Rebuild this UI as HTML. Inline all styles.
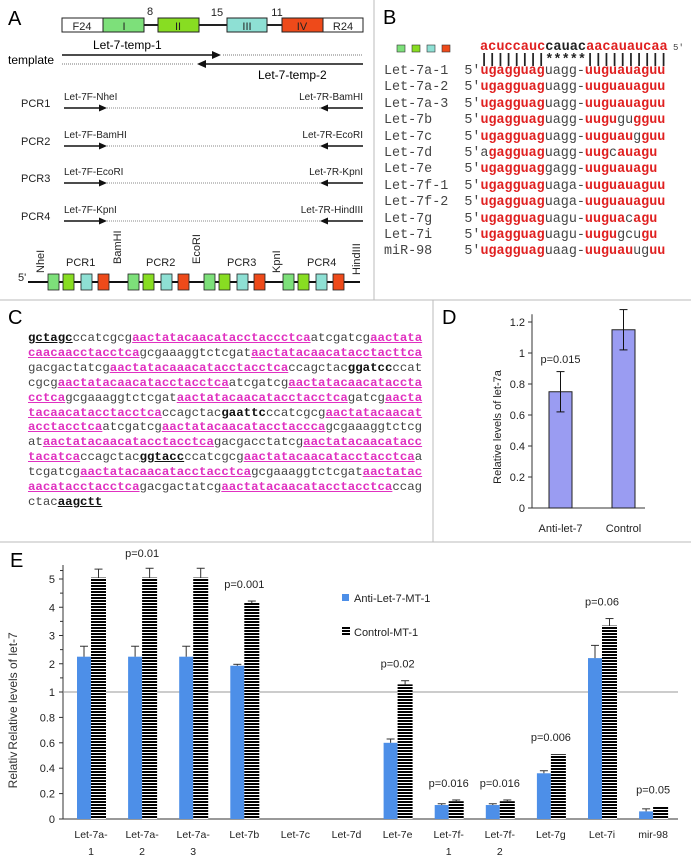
<!DOCTYPE html>
<html><head><meta charset="utf-8">
<style>
body{margin:0;background:#fff;}
#wrap{position:relative;width:691px;height:866px;overflow:hidden;background:#fff;font-family:"Liberation Sans",sans-serif;}
svg{position:absolute;left:0;top:0;}
.mono{font-family:"Liberation Mono",monospace;white-space:pre;position:absolute;}
.r{color:#e02020;font-weight:bold;}
.k{color:#222;font-weight:bold;}
.p{color:#e030c0;font-weight:bold;text-decoration:underline;}
.bu{color:#111;font-weight:bold;text-decoration:underline;}
.bb{color:#111;font-weight:bold;}
</style></head>
<body>
<div id="wrap">
<svg width="691" height="866" id="svg" font-family="Liberation Sans, sans-serif">
<defs>
<pattern id="stripes" width="4" height="3" patternUnits="userSpaceOnUse"><rect width="4" height="3" fill="#fff"/><rect width="4" height="2" fill="#000"/></pattern>
</defs>
<g stroke="#bbb" stroke-width="1">
<line x1="374" y1="0" x2="374" y2="300"/>
<line x1="0" y1="300" x2="691" y2="300"/>
<line x1="433" y1="300" x2="433" y2="542"/>
<line x1="0" y1="542" x2="691" y2="542"/>
</g>
<g>
<text x="8" y="25" font-size="20">A</text>
<g stroke="#222" stroke-width="1">
<line x1="144" y1="25" x2="158" y2="25" stroke-width="2"/>
<line x1="199" y1="25" x2="227" y2="25" stroke-width="2"/>
<line x1="267" y1="25" x2="282" y2="25" stroke-width="2"/>
<rect x="62" y="18" width="41" height="14" fill="#fff"/>
<rect x="103" y="18" width="41" height="14" fill="#7de07a"/>
<rect x="158" y="18" width="41" height="14" fill="#88dd22"/>
<rect x="227" y="18" width="40" height="14" fill="#8ee0d4"/>
<rect x="282" y="18" width="41" height="14" fill="#ee4a1a"/>
<rect x="323" y="18" width="40" height="14" fill="#fff"/>
</g>
<g font-size="11" text-anchor="middle" fill="#222">
<text x="82" y="30">F24</text><text x="124" y="30">I</text><text x="178" y="30">II</text><text x="247" y="30">III</text><text x="302" y="30">IV</text><text x="343" y="30">R24</text>
<text x="150" y="15">8</text><text x="217" y="16">15</text><text x="277" y="16">11</text>
</g>
<text x="93" y="49" font-size="12">Let-7-temp-1</text>
<text x="8" y="64" font-size="12">template</text>
<text x="258" y="79" font-size="12">Let-7-temp-2</text>
<line x1="62" y1="55" x2="214" y2="55" stroke="#111" stroke-width="1.5"/>
<polygon points="212,51 221,55 212,59" fill="#111"/>
<line x1="223" y1="55" x2="363" y2="55" stroke="#777" stroke-dasharray="1,1"/>
<line x1="62" y1="64" x2="193" y2="64" stroke="#777" stroke-dasharray="1,1"/>
<polygon points="197,64 206,60 206,68" fill="#111"/>
<line x1="204" y1="64" x2="363" y2="64" stroke="#111" stroke-width="1.5"/>
<g id="pcr" font-size="10" fill="#222"></g>
<line x1="28" y1="282" x2="360" y2="282" stroke="#111" stroke-width="2"/>
<g id="construct"></g>
<g font-size="11" fill="#222">
<text x="18" y="281">5'</text>
<text x="66" y="266">PCR1</text><text x="146" y="266">PCR2</text><text x="227" y="266">PCR3</text><text x="307" y="266">PCR4</text>
<text transform="translate(44,273) rotate(-90)">NheI</text>
<text transform="translate(121,264) rotate(-90)">BamHI</text>
<text transform="translate(200,264) rotate(-90)">EcoRI</text>
<text transform="translate(280,273) rotate(-90)">KpnI</text>
<text transform="translate(360,275) rotate(-90)">HindIII</text>
</g>
</g>
<g>
<text x="383" y="24" font-size="20">B</text>
<rect x="397" y="45" width="8" height="7" fill="#7de07a" stroke="#333" stroke-width="0.6"/>
<rect x="412" y="45" width="8" height="7" fill="#88dd22" stroke="#333" stroke-width="0.6"/>
<rect x="427" y="45" width="8" height="7" fill="#8ee0d4" stroke="#333" stroke-width="0.6"/>
<rect x="442" y="45" width="8" height="7" fill="#ee4a1a" stroke="#333" stroke-width="0.6"/>
</g>
<text x="8" y="324" font-size="20">C</text>
<text x="442" y="324" font-size="20">D</text>
<text x="10" y="567" font-size="20">E</text>
<g id="chartD"></g>
<g id="chartE"></g>
</svg>

<div class="mono" style="left:480px;top:40px;font-size:13.6px;line-height:16px;"><span class="r">acuccauc</span><span class="k">cauac</span><span class="r">aacauaucaa</span><span style="font-size:9px;color:#444;"> 5'</span></div>
<div class="mono" style="left:480px;top:54px;font-size:13.6px;line-height:14px;color:#222;font-weight:bold;">||||||||*****||||||||||</div>
<div class="mono" style="left:384px;top:64px;font-size:13.4px;line-height:16.4px;color:#444;">Let-7a-1  5'<span class="r">ugagguag</span>uagg-<span class="r">uuguauaguu</span>
Let-7a-2  5'<span class="r">ugagguag</span>uagg-<span class="r">uuguauaguu</span>
Let-7a-3  5'<span class="r">ugagguag</span>uagg-<span class="r">uuguauaguu</span>
Let-7b    5'<span class="r">ugagguag</span>uagg-<span class="r">uugu</span>gu<span class="r">gguu</span>
Let-7c    5'<span class="r">ugagguag</span>uagg-<span class="r">uuguau</span>g<span class="r">guu</span>
Let-7d    5'a<span class="r">gagguag</span>uagg-<span class="r">uug</span>c<span class="r">auagu</span>
Let-7e    5'<span class="r">ugagguag</span>gagg-<span class="r">uuguauagu</span>
Let-7f-1  5'<span class="r">ugagguag</span>uaga-<span class="r">uuguauaguu</span>
Let-7f-2  5'<span class="r">ugagguag</span>uaga-<span class="r">uuguauaguu</span>
Let-7g    5'<span class="r">ugagguag</span>uagu-<span class="r">uugua</span>c<span class="r">agu</span>
Let-7i    5'<span class="r">ugagguag</span>uagu-<span class="r">uugu</span>gcu<span class="r">gu</span>
miR-98    5'<span class="r">ugagguag</span>uaag-<span class="r">uuguau</span>ug<span class="r">uu</span></div>

<div class="mono" style="left:28px;top:331px;font-size:12.4px;line-height:14.9px;color:#444;"><span class="bu">gctagc</span>ccatcgcg<span class="p">aactatacaacatacctaccctca</span>atcgatcg<span class="p">aactata</span>
<span class="p">caacaacctacctca</span>gcgaaaggtctcgat<span class="p">aactatacaacatacctacttca</span>
gacgactatcg<span class="p">aactatacaaacatacctacctca</span>ccagctac<span class="bb">ggatcc</span>ccat
cgcg<span class="p">aactatacaacatacctacctca</span>atcgatcg<span class="p">aactatacaacatacctа</span>
<span class="p">cctca</span>gcgaaaggtctcgat<span class="p">aactatacaacatacctacctca</span>gatcg<span class="p">aacta</span>
<span class="p">tacaacatacctacctca</span>ccagctac<span class="bb">gaattc</span>ccatcgcg<span class="p">aactatacaacat</span>
<span class="p">acctacctca</span>atcgatcg<span class="p">aactatacaacatacctaccca</span>gcgaaaggtctcg
at<span class="p">aactatacaacatacctacctca</span>gacgacctatcg<span class="p">aactatacaacatacc</span>
<span class="p">tacatca</span>ccagctac<span class="bu">ggtacc</span>ccatcgcg<span class="p">aactatacaacatacctacctca</span>a
tcgatcg<span class="p">aactatacaacatacctacctca</span>gcgaaaggtctcgat<span class="p">aactatac</span>
<span class="p">aacatacctacctca</span>gacgactatcg<span class="p">aactatacaacatacctacctca</span>ccag
ctac<span class="bu">aagctt</span></div>
</div>

<script>
// ---- Panel D data ----
const dCategories = ["Anti-let-7", "Control"];
const dValues = [0.75, 1.15];
const dErrors = [0.13, 0.13];
const dTicks = [0, 0.2, 0.4, 0.6, 0.8, 1, 1.2];

// ---- Panel E data ----
const eCategories = ["Let-7a-|1","Let-7a-|2","Let-7a-|3","Let-7b","Let-7c","Let-7d","Let-7e","Let-7f-|1","Let-7f-|2","Let-7g","Let-7i","mir-98"];
const eAnti = [2.25, 2.25, 2.25, 1.93, 0, 0, 0.6, 0.11, 0.11, 0.36, 2.2, 0.06];
const eAntiErr = [0.37, 0.37, 0.37, 0.05, 0, 0, 0.03, 0.01, 0.01, 0.02, 0.45, 0.02];
const eControl = [5.05, 5.05, 5.05, 4.15, 0, 0, 1.27, 0.14, 0.14, 0.51, 3.35, 0.1];
const eControlErr = [0.3, 0.33, 0.33, 0.07, 0, 0, 0.13, 0.01, 0.01, 0, 0.25, 0];
const ePvalues = ["", "p=0.01", "", "p=0.001", "", "", "p=0.02", "p=0.016", "p=0.016", "p=0.006", "p=0.06", "p=0.05"];
const eTicks = [0, 0.2, 0.4, 0.6, 0.8, 1, 2, 3, 4, 5];

const NS = "http://www.w3.org/2000/svg";
function mk(tag, attrs, parent){const e=document.createElementNS(NS,tag);for(const k in attrs)e.setAttribute(k,attrs[k]);parent.appendChild(e);return e;}

(function(){
  const g=document.getElementById('pcr');
  const rows=[["PCR1","Let-7F-NheI","Let-7R-BamHI"],["PCR2","Let-7F-BamHI","Let-7R-EcoRI"],["PCR3","Let-7F-EcoRI","Let-7R-KpnI"],["PCR4","Let-7F-KpnI","Let-7R-HindIII"]];
  const ys=[108,146,183,221];
  rows.forEach((r,i)=>{
    const y=ys[i];
    let t=mk('text',{x:21,y:y-1,'font-size':11},g); t.textContent=r[0];
    
    
    t=mk('text',{x:64,y:y-8},g); t.textContent=r[1];
    t=mk('text',{x:363,y:y-8,'text-anchor':'end'},g); t.textContent=r[2];
    mk('line',{x1:64,y1:y,x2:100,y2:y,stroke:'#111','stroke-width':1.5},g);
    mk('polygon',{points:`99,${y-3.5} 107,${y} 99,${y+3.5}`,fill:'#111'},g);
    mk('line',{x1:107,y1:y,x2:320,y2:y,stroke:'#888','stroke-dasharray':'1,1'},g);
    mk('polygon',{points:`320,${y} 328,${y-3.5} 328,${y+3.5}`,fill:'#111'},g);
    mk('line',{x1:327,y1:y,x2:363,y2:y,stroke:'#111','stroke-width':1.5},g);
  });
  const c=document.getElementById('construct');
  const starts=[48,128,204,283], offs=[0,15,33,50], cols=['#7de07a','#88dd22','#8ee0d4','#ee4a1a'];
  starts.forEach(s=>offs.forEach((o,j)=>{
    const r=mk('rect',{x:s+o,y:274,width:11,height:16,fill:cols[j],stroke:'#222','stroke-width':0.8},c);
    
    
  }));
})();

(function(){
  const g=document.getElementById('chartD');
  const y0=508, ppu=155, xL=532, xR=645;
  const y=v=>y0-v*ppu;
  mk('line',{x1:xL,y1:y(1.25),x2:xL,y2:y0,stroke:'#333'},g);
  mk('line',{x1:xL,y1:y0,x2:xR,y2:y0,stroke:'#333'},g);
  dTicks.forEach(t=>{
    mk('line',{x1:xL-4,y1:y(t),x2:xL,y2:y(t),stroke:'#333'},g);
    const tx=mk('text',{x:xL-7,y:y(t)+4,'font-size':11,'text-anchor':'end',fill:'#222'},g);
    tx.textContent=String(t);
    
    
  });
  const yt=mk('text',{transform:'translate(501,427) rotate(-90)','font-size':11,'text-anchor':'middle',fill:'#222'},g);
  yt.textContent='Relative levels of let-7a';
  
  
  const cx=[560.5,623.5];
  dCategories.forEach((cat,i)=>{
    const b=mk('rect',{x:cx[i]-11.5,y:y(dValues[i]),width:23,height:dValues[i]*ppu,fill:'#9a9cf2',stroke:'#222','stroke-width':1},g);
    
    
    const hi=y(dValues[i]+dErrors[i]), lo=y(dValues[i]-dErrors[i]);
    mk('line',{x1:cx[i],y1:hi,x2:cx[i],y2:lo,stroke:'#111'},g);
    mk('line',{x1:cx[i]-4,y1:hi,x2:cx[i]+4,y2:hi,stroke:'#111'},g);
    mk('line',{x1:cx[i]-4,y1:lo,x2:cx[i]+4,y2:lo,stroke:'#111'},g);
    const t=mk('text',{x:cx[i],y:532,'font-size':11,'text-anchor':'middle',fill:'#222'},g);
    t.textContent=cat;
    
    
  });
  const p=mk('text',{x:cx[0],y:363,'font-size':11,'text-anchor':'middle',fill:'#222'},g);
  p.textContent='p=0.015';
  
  
})();

(function(){
  const g=document.getElementById('chartE');
  const y=v=> v<=1 ? 819-v*127 : 692-(v-1)*28.25;
  const xL=63, xR=678, c0=91, step=51.1;
  mk('line',{x1:xL,y1:565,x2:xL,y2:819,stroke:'#333'},g);
  mk('line',{x1:xL,y1:819,x2:xR,y2:819,stroke:'#333'},g);
  mk('line',{x1:xL,y1:692,x2:xR,y2:692,stroke:'#999','stroke-width':1},g);
  [1.5,2.5,3.5,4.5,5.3].forEach(t=>mk('line',{x1:xL-3,y1:y(t),x2:xL,y2:y(t),stroke:'#333'},g));
  eTicks.forEach(t=>{
    mk('line',{x1:xL-4,y1:y(t),x2:xL,y2:y(t),stroke:'#333'},g);
    const tx=mk('text',{x:xL-8,y:y(t)+4,'font-size':11,'text-anchor':'end',fill:'#222'},g);
    tx.textContent=String(t);
    
    
  });
  let t=mk('text',{transform:'translate(17,691) rotate(-90)','font-size':12,'text-anchor':'middle',fill:'#333'},g);
  t.textContent='Relative levels of let-7';
  
  
  t=mk('text',{transform:'translate(17,770) rotate(-90)','font-size':12,'text-anchor':'middle',fill:'#333'},g);
  t.textContent='Relativ';
  function err(x,v,e){
    if(!e) return;
    mk('line',{x1:x,y1:y(v),x2:x,y2:y(v+e),stroke:'#333'},g);
    mk('line',{x1:x-4,y1:y(v+e),x2:x+4,y2:y(v+e),stroke:'#333'},g);
  }
  eCategories.forEach((cat,i)=>{
    const c=c0+i*step;
    if(eAnti[i]>0){
      const b=mk('rect',{x:c-14,y:y(eAnti[i]),width:14,height:819-y(eAnti[i]),fill:'#4d8fe8'},g);
      
      
      err(c-7,eAnti[i],eAntiErr[i]);
    }
    if(eControl[i]>0){
      const b=mk('rect',{x:c,y:y(eControl[i]),width:15,height:819-y(eControl[i]),fill:'url(#stripes)'},g);
      
      
      err(c+7.5,eControl[i],eControlErr[i]);
    }
    const parts=cat.split('|');
    parts.forEach((pt,k)=>{
      const tx=mk('text',{x:c,y:838+k*17,'font-size':10.5,'text-anchor':'middle',fill:'#222'},g);
      tx.textContent=pt;
      
      
    });
    if(ePvalues[i]){
      const top=Math.max(eAnti[i]+eAntiErr[i],eControl[i]+eControlErr[i]);
      const py = i===1 ? 557 : y(top)-13;
      const tx=mk('text',{x:c,y:py,'font-size':11,'text-anchor':'middle',fill:'#222'},g);
      tx.textContent=ePvalues[i];
      
      
    }
  });
  const l1=mk('rect',{x:342,y:594,width:7,height:7,fill:'#4d8fe8'},g);
  
  
  t=mk('text',{x:354,y:602,'font-size':11,fill:'#222'},g); t.textContent='Anti-Let-7-MT-1';
  
  
  const l2=mk('rect',{x:342,y:627,width:8,height:9,fill:'url(#stripes)'},g);
  
  
  t=mk('text',{x:354,y:636,'font-size':11,fill:'#222'},g); t.textContent='Control-MT-1';
  
  
})();
</script>
</body></html>
